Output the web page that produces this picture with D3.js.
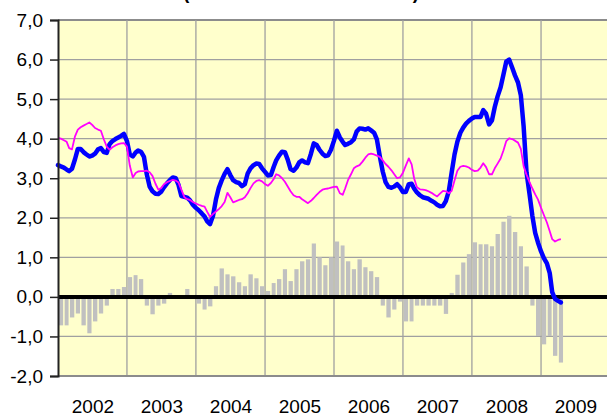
<!DOCTYPE html>
<html>
<head>
  <meta charset='utf-8'>
  <script src='https://cdn.jsdelivr.net/npm/d3@7/dist/d3.min.js'></script>
  <style>
    body { margin: 0; background: #fff; }
    svg { display: block; font-family: 'Liberation Sans', Arial, sans-serif; }
  </style>
</head>
<body>
<div id='chart'></div>
<script>
  // monthly bars, Jan 2002 .. Apr 2009
  var barValues = [
    -0.72, -0.72, -0.52, -0.42, -0.72, -0.92, -0.62, -0.42, -0.22, 0.20, 0.20, 0.25,
    0.50, 0.55, 0.45, -0.22, -0.44, -0.22, -0.17, 0.10, 0.00, 0.00, 0.20, 0.00,
    -0.17, -0.32, -0.24, 0.27, 0.72, 0.57, 0.52, 0.37, 0.27, 0.57, 0.47, 0.27,
    0.15, 0.35, 0.45, 0.70, 0.40, 0.70, 0.90, 0.95, 1.35, 1.00, 0.80, 1.00,
    1.40, 1.30, 0.90, 0.70, 0.95, 0.75, 0.65, 0.50, -0.22, -0.52, -0.32, -0.12,
    -0.62, -0.62, -0.22, -0.22, -0.22, -0.22, -0.22, -0.43, 0.10, 0.56, 0.87, 1.08,
    1.38, 1.33, 1.33, 1.28, 1.59, 1.90, 2.05, 1.64, 1.28, 0.77, -0.22, -0.99,
    -1.20, -0.99, -1.49, -1.66
  ];

  // half-monthly readings (1st and 16th of each month)
  var blueValues = [
    3.33, 3.30, 3.27, 3.22, 3.18, 3.24, 3.48, 3.74, 3.74, 3.66, 3.60, 3.55,
    3.57, 3.62, 3.73, 3.76, 3.66, 3.64, 3.86, 3.94, 3.99, 4.03, 4.07, 4.12,
    3.94, 3.60, 3.55, 3.65, 3.70, 3.67, 3.54, 3.10, 2.79, 2.67, 2.61, 2.60,
    2.66, 2.77, 2.87, 2.95, 3.02, 3.00, 2.83, 2.55, 2.53, 2.51, 2.44, 2.33,
    2.25, 2.19, 2.11, 2.03, 1.91, 1.84, 2.06, 2.46, 2.75, 2.94, 3.11, 3.23,
    3.08, 2.95, 2.90, 2.88, 2.80, 2.85, 3.12, 3.25, 3.33, 3.37, 3.36, 3.25,
    3.16, 3.07, 3.08, 3.29, 3.45, 3.57, 3.67, 3.66, 3.47, 3.23, 3.19, 3.27,
    3.40, 3.45, 3.40, 3.38, 3.62, 3.88, 3.84, 3.72, 3.62, 3.56, 3.58, 3.72,
    3.95, 4.20, 4.03, 3.92, 3.84, 3.87, 3.91, 3.98, 4.18, 4.26, 4.25, 4.23,
    4.26, 4.21, 4.15, 3.98, 3.54, 3.17, 2.90, 2.78, 2.76, 2.79, 2.85, 2.77,
    2.65, 2.65, 2.85, 2.86, 2.74, 2.64, 2.57, 2.52, 2.50, 2.48, 2.43, 2.39,
    2.33, 2.29, 2.30, 2.42, 2.68, 3.15, 3.60, 3.92, 4.15, 4.28, 4.38, 4.45,
    4.51, 4.55, 4.55, 4.55, 4.72, 4.63, 4.36, 4.46, 4.80, 5.07, 5.30, 5.62,
    5.95, 6.00, 5.80, 5.60, 5.42, 5.10, 4.30, 3.15, 2.60, 2.05, 1.62, 1.37,
    1.15, 0.98, 0.85, 0.60, 0.12, -0.05, -0.10, -0.14
  ];

  var pinkValues = [
    4.02, 4.00, 3.96, 3.92, 3.76, 3.73, 4.06, 4.23, 4.29, 4.33, 4.37, 4.41,
    4.35, 4.27, 4.23, 4.20, 3.98, 3.80, 3.72, 3.78, 3.83, 3.86, 3.88, 3.89,
    3.80, 3.32, 3.02, 3.13, 3.17, 3.18, 3.18, 3.19, 3.15, 3.06, 2.86, 2.71,
    2.75, 2.85, 2.90, 2.93, 2.96, 2.94, 2.89, 2.71, 2.52, 2.47, 2.45, 2.40,
    2.36, 2.33, 2.30, 2.28, 2.15, 2.02, 2.10, 2.16, 2.22, 2.29, 2.40, 2.63,
    2.52, 2.39, 2.42, 2.45, 2.47, 2.52, 2.62, 2.75, 2.87, 2.93, 2.95, 2.92,
    2.85, 2.81, 2.88, 2.98, 3.10, 3.07, 3.00, 2.91, 2.79, 2.67, 2.57, 2.53,
    2.53, 2.47, 2.42, 2.37, 2.43, 2.50, 2.58, 2.65, 2.71, 2.73, 2.74, 2.76,
    2.78, 2.79, 2.62, 2.58, 2.74, 2.95, 3.10, 3.25, 3.30, 3.33, 3.42, 3.52,
    3.60, 3.62, 3.60, 3.57, 3.54, 3.45, 3.36, 3.29, 3.20, 3.10, 3.00, 3.02,
    3.14, 3.32, 3.50, 3.35, 3.00, 2.77, 2.72, 2.71, 2.70, 2.67, 2.63, 2.58,
    2.54, 2.61, 2.68, 2.67, 2.62, 2.68, 2.94, 3.19, 3.29, 3.31, 3.30, 3.27,
    3.21, 3.18, 3.19, 3.27, 3.38, 3.28, 3.10, 3.10, 3.25, 3.37, 3.50, 3.70,
    3.94, 4.01, 3.99, 3.95, 3.90, 3.74, 3.30, 3.09, 2.90, 2.74, 2.59, 2.46,
    2.25, 2.07, 1.88, 1.66, 1.46, 1.40, 1.44, 1.46
  ];

  var years = [2002, 2003, 2004, 2005, 2006, 2007, 2008, 2009];
  var yTicks = [-2, -1, 0, 1, 2, 3, 4, 5, 6, 7];

  var W = 607, H = 417;
  var margin = { top: 20, left: 58, bottom: 41 };

  var svg = d3.select('#chart').append('svg')
    .attr('width', W)
    .attr('height', H);

  var x = d3.scaleTime()
    .domain([new Date(2002, 0, 1), new Date(2010, 0, 1)])
    .range([margin.left, 610]);

  var y = d3.scaleLinear()
    .domain([-2, 7])
    .range([H - margin.bottom, margin.top]);

  function comma(d) { return d.toFixed(1).replace('.', ','); }

  // title, mostly cut off at the top
  svg.append('text')
    .attr('x', 301)
    .attr('y', -1.5)
    .attr('text-anchor', 'middle')
    .attr('font-weight', 'bold')
    .attr('font-size', 20)
    .attr('textLength', 236)
    .attr('lengthAdjust', 'spacingAndGlyphs')
    .text('(acumulado em 12 meses)');

  // plot area
  svg.append('rect')
    .attr('x', margin.left)
    .attr('y', y(7))
    .attr('width', 610 - margin.left)
    .attr('height', y(-2) - y(7))
    .attr('fill', '#ffffcc');

  // horizontal grid
  svg.append('g')
    .selectAll('line')
    .data(yTicks.slice(1))
    .enter()
    .append('line')
    .attr('x1', margin.left)
    .attr('x2', W)
    .attr('y1', function(d) { return y(d); })
    .attr('y2', function(d) { return y(d); })
    .attr('stroke', function(d) { return d === 7 ? '#8c8c8c' : '#a0a0a0'; })
    .attr('stroke-width', function(d) { return d === 7 ? 2 : 1.3; });

  // vertical grid at year boundaries
  svg.append('g')
    .selectAll('line')
    .data(years.slice(1))
    .enter()
    .append('line')
    .attr('x1', function(d) { return x(new Date(d, 0, 1)); })
    .attr('x2', function(d) { return x(new Date(d, 0, 1)); })
    .attr('y1', y(7))
    .attr('y2', y(-2))
    .attr('stroke', '#a0a0a0')
    .attr('stroke-width', 1.3);

  // bottom border
  svg.append('line')
    .attr('x1', margin.left)
    .attr('x2', W)
    .attr('y1', y(-2))
    .attr('y2', y(-2))
    .attr('stroke', '#8c8c8c')
    .attr('stroke-width', 2);

  // bars
  svg.append('g')
    .selectAll('rect')
    .data(barValues)
    .enter()
    .append('rect')
    .attr('x', function(d, i) { return x(new Date(2002, i, 1)) + 0.8; })
    .attr('width', function(d, i) { return (x(new Date(2002, i + 1, 1)) - x(new Date(2002, i, 1))) * 0.74; })
    .attr('y', function(d) { return y(Math.max(0, d)); })
    .attr('height', function(d) { return Math.abs(y(d) - y(0)); })
    .attr('fill', '#c0c0c0');

  // zero line
  svg.append('line')
    .attr('x1', margin.left)
    .attr('x2', W)
    .attr('y1', y(0))
    .attr('y2', y(0))
    .attr('stroke', '#000')
    .attr('stroke-width', 4);

  function halfMonth(i) {
    return new Date(2002, Math.floor(i / 2), i % 2 ? 16 : 1);
  }

  var line = d3.line()
    .x(function(d, i) { return x(halfMonth(i)); })
    .y(function(d) { return y(d); });

  svg.append('path')
    .datum(blueValues)
    .attr('d', line)
    .attr('fill', 'none')
    .attr('stroke', '#0000ff')
    .attr('stroke-width', 4.5)
    .attr('stroke-linejoin', 'round')
    .attr('stroke-linecap', 'round');

  svg.append('path')
    .datum(pinkValues)
    .attr('d', line)
    .attr('fill', 'none')
    .attr('stroke', '#ff00ff')
    .attr('stroke-width', 1.8)
    .attr('stroke-linejoin', 'round');

  // y axis
  var yAxis = svg.append('g')
    .attr('transform', 'translate(' + margin.left + ',0)')
    .call(d3.axisLeft(y)
      .tickValues(yTicks)
      .tickFormat(comma)
      .tickSize(8)
      .tickPadding(7));
  yAxis.select('.domain').attr('stroke', '#222').attr('stroke-width', 2);
  yAxis.selectAll('.tick line').attr('stroke', '#222').attr('stroke-width', 1.5);
  yAxis.selectAll('text')
    .attr('font-size', 19)
    .attr('font-family', "'Liberation Sans', Arial, sans-serif")
    .attr('fill', '#000');

  // x axis: year labels centred in each year
  var xAxis = svg.append('g')
    .attr('transform', 'translate(0,' + y(-2) + ')')
    .call(d3.axisBottom(x)
      .tickValues(years.map(function(d) { return new Date(d, 6, 2); }))
      .tickFormat(d3.timeFormat('%Y'))
      .tickSize(0)
      .tickPadding(24));
  xAxis.select('.domain').remove();
  xAxis.selectAll('text')
    .attr('font-size', 19)
    .attr('font-family', "'Liberation Sans', Arial, sans-serif")
    .attr('fill', '#000');
</script>
</body>
</html>
